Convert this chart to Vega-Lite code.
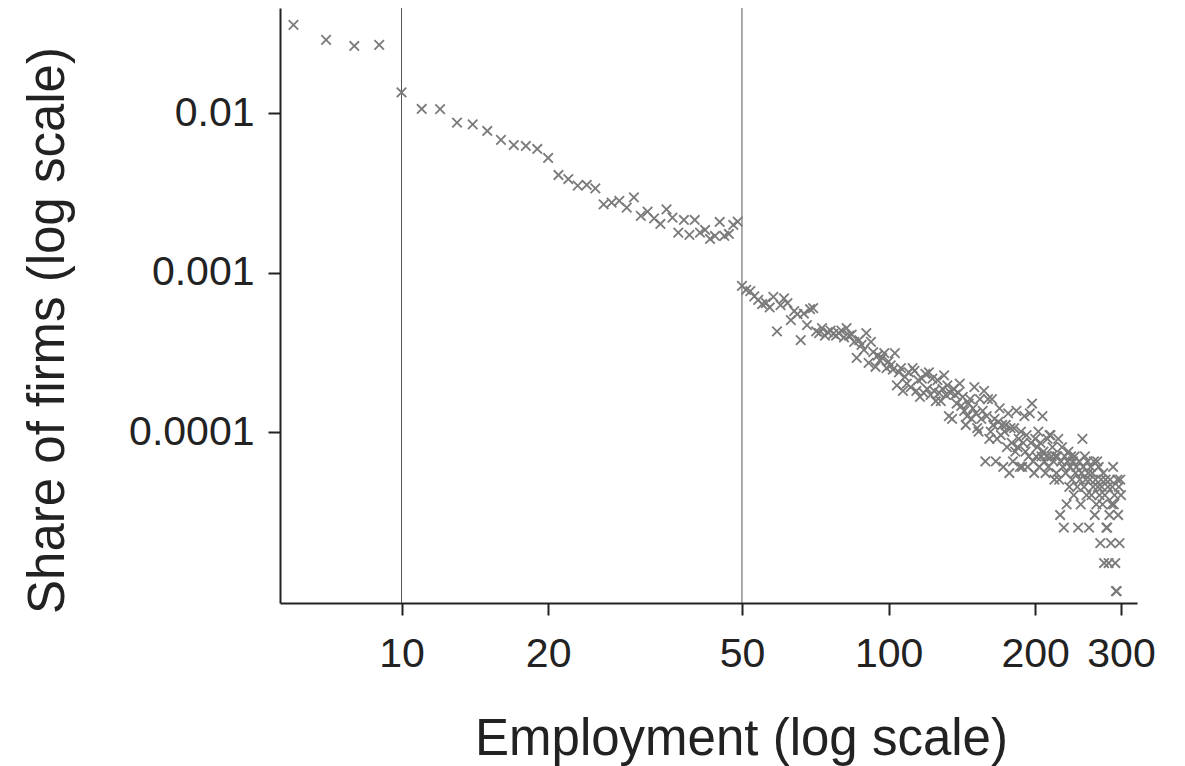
{
"$schema": "https://vega.github.io/schema/vega-lite/v6.json",
"width": 857, "height": 595,
"autosize": {"type": "none"},
"padding": {"left": 280, "top": 8, "right": 48, "bottom": 163},
"background": "white",
"config": {"view": {"stroke": null}, "font": "Liberation Sans"},
"datasets": {
"lines": [{"n": 10}, {"n": 50}],
"pts": [
{"n":6,"share":0.03578},{"n":7,"share":0.02882},{"n":8,"share":0.02642},{"n":9,"share":0.02681},
{"n":10,"share":0.01354},{"n":11,"share":0.01064},{"n":12,"share":0.01062},{"n":13,"share":0.008731},
{"n":14,"share":0.008532},{"n":15,"share":0.007745},{"n":16,"share":0.006803},{"n":17,"share":0.006326},
{"n":18,"share":0.006237},{"n":19,"share":0.005973},{"n":20,"share":0.005245},{"n":21,"share":0.004103},
{"n":22,"share":0.003872},{"n":23,"share":0.003516},{"n":24,"share":0.003552},{"n":25,"share":0.003387},
{"n":26,"share":0.002689},{"n":27,"share":0.002752},{"n":28,"share":0.00282},{"n":29,"share":0.00256},
{"n":30,"share":0.002974},{"n":31,"share":0.002271},{"n":32,"share":0.002415},{"n":33,"share":0.002196},
{"n":34,"share":0.002023},{"n":35,"share":0.0025},{"n":36,"share":0.002215},{"n":37,"share":0.001784},
{"n":38,"share":0.002143},{"n":39,"share":0.001726},{"n":40,"share":0.002143},{"n":41,"share":0.001784},
{"n":42,"share":0.001855},{"n":43,"share":0.001629},{"n":44,"share":0.001701},{"n":45,"share":0.002082},
{"n":46,"share":0.001701},{"n":47,"share":0.001751},{"n":48,"share":0.001994},{"n":49,"share":0.002091},
{"n":50,"share":0.000827},
{"n":51,"share":782.75e-6},{"n":52,"share":767.6e-6},{"n":53,"share":712.05e-6},{"n":54,"share":676.7e-6},
{"n":55,"share":636.3e-6},{"n":56,"share":646.4e-6},{"n":57,"share":606e-6},{"n":58,"share":707e-6},
{"n":59,"share":429.25e-6},{"n":60,"share":626.2e-6},{"n":61,"share":691.85e-6},{"n":62,"share":646.4e-6},
{"n":63,"share":505e-6},{"n":64,"share":575.7e-6},{"n":65,"share":550.45e-6},{"n":66,"share":378.75e-6},
{"n":67,"share":555.5e-6},{"n":68,"share":469.65e-6},{"n":69,"share":590.85e-6},{"n":70,"share":600.95e-6},
{"n":71,"share":429.25e-6},{"n":72,"share":419.15e-6},{"n":73,"share":449.45e-6},{"n":74,"share":404e-6},
{"n":75,"share":424.2e-6},{"n":76,"share":434.3e-6},{"n":77,"share":414.1e-6},{"n":78,"share":404e-6},
{"n":79,"share":419.15e-6},{"n":80,"share":434.3e-6},{"n":81,"share":393.9e-6},{"n":82,"share":449.45e-6},
{"n":83,"share":404e-6},{"n":84,"share":409.05e-6},{"n":85,"share":368.65e-6},{"n":86,"share":292.9e-6},
{"n":87,"share":378.75e-6},{"n":88,"share":353.5e-6},{"n":89,"share":328.25e-6},{"n":90,"share":419.15e-6},
{"n":91,"share":272.7e-6},{"n":92,"share":368.65e-6},{"n":93,"share":318.15e-6},{"n":94,"share":257.55e-6},
{"n":95,"share":303e-6},{"n":96,"share":282.8e-6},{"n":97,"share":292.9e-6},{"n":98,"share":313.1e-6},
{"n":99,"share":252.5e-6},{"n":100,"share":277.75e-6},{"n":101,"share":262.6e-6},{"n":102,"share":247.45e-6},
{"n":103,"share":313.1e-6},{"n":104,"share":196.95e-6},{"n":105,"share":237.35e-6},{"n":106,"share":252.5e-6},
{"n":107,"share":181.8e-6},{"n":108,"share":222.2e-6},{"n":109,"share":202e-6},{"n":110,"share":237.35e-6},
{"n":111,"share":191.9e-6},{"n":112,"share":252.5e-6},{"n":113,"share":242.4e-6},{"n":114,"share":181.8e-6},
{"n":115,"share":212.1e-6},{"n":116,"share":166.65e-6},{"n":117,"share":217.15e-6},{"n":118,"share":176.75e-6},
{"n":119,"share":232.3e-6},{"n":120,"share":186.85e-6},{"n":121,"share":237.35e-6},{"n":122,"share":171.7e-6},
{"n":123,"share":217.15e-6},{"n":124,"share":181.8e-6},{"n":125,"share":156.55e-6},{"n":126,"share":212.1e-6},
{"n":127,"share":176.75e-6},{"n":128,"share":156.55e-6},{"n":129,"share":186.85e-6},{"n":130,"share":227.25e-6},
{"n":131,"share":171.7e-6},{"n":132,"share":196.95e-6},{"n":133,"share":126.25e-6},{"n":134,"share":176.75e-6},
{"n":135,"share":121.2e-6},{"n":136,"share":186.85e-6},{"n":137,"share":171.7e-6},{"n":138,"share":151.5e-6},
{"n":139,"share":176.75e-6},{"n":140,"share":202e-6},{"n":141,"share":146.45e-6},{"n":142,"share":166.65e-6},
{"n":143,"share":136.35e-6},{"n":144,"share":111.1e-6},{"n":145,"share":126.25e-6},{"n":146,"share":151.5e-6},
{"n":147,"share":161.6e-6},{"n":148,"share":121.2e-6},{"n":149,"share":141.4e-6},{"n":150,"share":191.9e-6},
{"n":151,"share":131.3e-6},{"n":152,"share":106.05e-6},{"n":153,"share":101e-6},{"n":154,"share":161.6e-6},
{"n":155,"share":121.2e-6},{"n":156,"share":136.35e-6},{"n":157,"share":181.8e-6},{"n":158,"share":65.65e-6},
{"n":159,"share":126.25e-6},{"n":160,"share":161.6e-6},{"n":161,"share":90.9e-6},{"n":162,"share":101e-6},
{"n":163,"share":161.6e-6},{"n":164,"share":111.1e-6},{"n":165,"share":121.2e-6},{"n":166,"share":65.65e-6},
{"n":167,"share":90.9e-6},{"n":168,"share":116.15e-6},{"n":169,"share":141.4e-6},{"n":170,"share":95.95e-6},
{"n":171,"share":111.1e-6},{"n":172,"share":60.6e-6},{"n":173,"share":101e-6},{"n":174,"share":111.1e-6},
{"n":175,"share":80.8e-6},{"n":176,"share":131.3e-6},{"n":177,"share":55.55e-6},{"n":178,"share":106.05e-6},
{"n":179,"share":85.85e-6},{"n":180,"share":65.65e-6},{"n":181,"share":106.05e-6},{"n":182,"share":75.75e-6},
{"n":183,"share":136.35e-6},{"n":184,"share":80.8e-6},{"n":185,"share":90.9e-6},{"n":186,"share":60.6e-6},
{"n":187,"share":101e-6},{"n":188,"share":60.6e-6},{"n":189,"share":85.85e-6},{"n":190,"share":126.25e-6},
{"n":191,"share":75.75e-6},{"n":192,"share":95.95e-6},{"n":193,"share":60.6e-6},{"n":194,"share":70.7e-6},
{"n":195,"share":131.3e-6},{"n":196,"share":85.85e-6},{"n":197,"share":151.5e-6},{"n":198,"share":65.65e-6},
{"n":199,"share":55.55e-6},{"n":200,"share":90.9e-6},{"n":201,"share":70.7e-6},{"n":202,"share":80.8e-6},
{"n":203,"share":101e-6},{"n":204,"share":60.6e-6},{"n":205,"share":85.85e-6},{"n":206,"share":70.7e-6},
{"n":207,"share":126.25e-6},{"n":208,"share":75.75e-6},{"n":209,"share":65.65e-6},{"n":210,"share":55.55e-6},
{"n":211,"share":70.7e-6},{"n":212,"share":90.9e-6},{"n":213,"share":60.6e-6},{"n":214,"share":95.95e-6},
{"n":215,"share":95.95e-6},{"n":216,"share":70.7e-6},{"n":217,"share":80.8e-6},{"n":218,"share":65.65e-6},
{"n":219,"share":50.5e-6},{"n":220,"share":70.7e-6},{"n":221,"share":55.55e-6},{"n":222,"share":70.7e-6},
{"n":223,"share":90.9e-6},{"n":224,"share":50.5e-6},{"n":225,"share":30.3e-6},{"n":226,"share":65.65e-6},
{"n":227,"share":80.8e-6},{"n":228,"share":60.6e-6},{"n":229,"share":25.25e-6},{"n":230,"share":70.7e-6},
{"n":231,"share":55.55e-6},{"n":232,"share":35.35e-6},{"n":233,"share":65.65e-6},{"n":234,"share":75.75e-6},
{"n":235,"share":45.45e-6},{"n":236,"share":60.6e-6},{"n":237,"share":70.7e-6},{"n":238,"share":50.5e-6},
{"n":239,"share":65.65e-6},{"n":240,"share":40.4e-6},{"n":241,"share":70.7e-6},{"n":242,"share":55.55e-6},
{"n":243,"share":60.6e-6},{"n":244,"share":45.45e-6},{"n":245,"share":25.25e-6},{"n":246,"share":65.65e-6},
{"n":247,"share":50.5e-6},{"n":248,"share":35.35e-6},{"n":249,"share":55.55e-6},{"n":250,"share":90.9e-6},
{"n":251,"share":60.6e-6},{"n":252,"share":45.45e-6},{"n":253,"share":70.7e-6},{"n":254,"share":50.5e-6},
{"n":255,"share":40.4e-6},{"n":256,"share":65.65e-6},{"n":257,"share":55.55e-6},{"n":258,"share":25.25e-6},
{"n":259,"share":50.5e-6},{"n":260,"share":60.6e-6},{"n":261,"share":40.4e-6},{"n":262,"share":55.55e-6},
{"n":263,"share":45.45e-6},{"n":264,"share":65.65e-6},{"n":265,"share":30.3e-6},{"n":266,"share":50.5e-6},
{"n":267,"share":35.35e-6},{"n":268,"share":65.65e-6},{"n":269,"share":45.45e-6},{"n":270,"share":60.6e-6},
{"n":271,"share":40.4e-6},{"n":272,"share":20.2e-6},{"n":273,"share":50.5e-6},{"n":274,"share":45.45e-6},
{"n":275,"share":35.35e-6},{"n":276,"share":55.55e-6},{"n":277,"share":15.15e-6},{"n":278,"share":40.4e-6},
{"n":279,"share":50.5e-6},{"n":280,"share":25.25e-6},{"n":281,"share":25.25e-6},{"n":282,"share":45.45e-6},
{"n":283,"share":15.15e-6},{"n":284,"share":30.3e-6},{"n":285,"share":50.5e-6},{"n":286,"share":20.2e-6},
{"n":287,"share":35.35e-6},{"n":288,"share":45.45e-6},{"n":289,"share":60.6e-6},{"n":290,"share":35.35e-6},
{"n":291,"share":40.4e-6},{"n":292,"share":15.15e-6},{"n":293,"share":10.1e-6},{"n":294,"share":10.1e-6},
{"n":295,"share":50.5e-6},{"n":296,"share":30.3e-6},{"n":297,"share":45.45e-6},{"n":298,"share":20.2e-6},
{"n":299,"share":50.5e-6},{"n":300,"share":40.4e-6}
]
},
"encoding": {
"x": {"field": "n", "type": "quantitative",
 "scale": {"type": "log", "domain": [5.63, 323.6], "nice": false},
 "axis": {"values": [10, 20, 50, 100, 200, 300], "format": "d", "grid": false,
  "domainColor": "#222", "domainWidth": 2, "tickColor": "#222", "tickWidth": 2, "tickSize": 12,
  "labelFontSize": 41, "labelColor": "#222", "labelPadding": 19, "labelFont": "Liberation Sans",
  "labelFlush": false, "labelOverlap": false,
  "title": "Employment (log scale)", "titleFont": "Liberation Sans", "titleFontSize": 51, "titleFontWeight": "normal",
  "titleColor": "#222", "titleX": 461, "titleY": 151, "titleAlign": "center", "titleBaseline": "alphabetic"}}
},
"layer": [
 {"data": {"name": "lines"}, "mark": {"type": "rule", "color": "#555", "strokeWidth": 1}},
 {"data": {"name": "pts"},
  "mark": {"type": "point", "shape": "M-1,-1L1,1M-1,1L1,-1", "filled": false, "stroke": "#7a7a7a", "strokeWidth": 1.8, "size": 90, "opacity": 1},
  "encoding": {
   "y": {"field": "share", "type": "quantitative",
    "scale": {"type": "log", "domain": [8.506e-6, 0.04572], "nice": false},
    "axis": {"values": [0.01, 0.001, 0.0001], "format": ".4~f", "grid": false,
     "domainColor": "#222", "domainWidth": 2, "tickColor": "#222", "tickWidth": 2, "tickSize": 12,
     "labelFontSize": 41, "labelColor": "#222", "labelPadding": 14, "labelFont": "Liberation Sans",
     "labelOverlap": false, "labelFlush": false,
     "title": "Share of firms (log scale)", "titleFont": "Liberation Sans", "titleFontSize": 51, "titleFontWeight": "normal",
     "titleColor": "#222", "titleX": -217, "titleY": 322, "titleAngle": -90, "titleAlign": "center", "titleBaseline": "alphabetic"}}
  }}
]
}
